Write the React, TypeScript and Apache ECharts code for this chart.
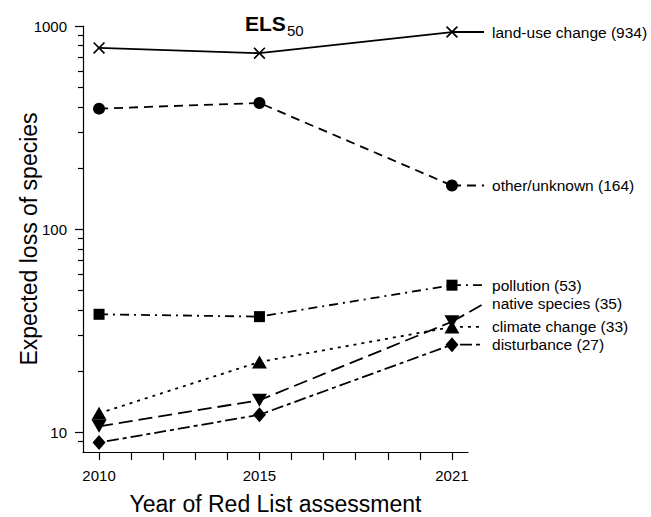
import React, { useEffect, useRef } from "react";
import * as echarts from "echarts";

// ---- data ----
const years = [2010, 2015, 2021];
const seriesNames = [
  "land-use change",
  "other/unknown",
  "pollution",
  "native species",
  "climate change",
  "disturbance",
];
const landUse = [780, 735, 934];
const otherUnknown = [392, 418, 164];
const pollution = [38.1, 37.1, 53];
const nativeSpecies = [10.7, 14.4, 35];
const climateChange = [12.4, 22.2, 33];
const disturbance = [8.9, 12.2, 27];
const seriesValues = [landUse, otherUnknown, pollution, nativeSpecies, climateChange, disturbance];
// value at which each right-hand label sits
const labelAnchors = [934, 164, 53, 43, 33, 27];
const labelYear = 2022;

const xTicks = [2010, 2011, 2012, 2013, 2014, 2015, 2016, 2017, 2018, 2019, 2020, 2021];
const xLabels = [2010, 2015, 2021];
const yMajorTicks = [10, 100, 1000];
const yMinorTicks = [9, 20, 30, 40, 50, 60, 70, 80, 90, 200, 300, 400, 500, 600, 700, 800, 900];

const FONT = "'Liberation Sans', Arial, Helvetica, sans-serif";
const BLACK = "#000000";

const crossPath =
  "path://M0,10 L10,0 L100,90 L90,100 Z M90,0 L100,10 L10,100 L0,90 Z";

const styles: any[] = [
  { dash: "solid", symbol: crossPath, size: 12, rotate: 0 },
  { dash: [9, 6], symbol: "circle", size: 12, rotate: 0 },
  { dash: [9, 5, 2, 5], symbol: "rect", size: 11, rotate: 0 },
  { dash: [14, 6], symbol: "triangle", size: [15, 13], rotate: 180 },
  { dash: [3, 5], symbol: "triangle", size: [15, 13], rotate: 0 },
  { dash: [4, 4, 12, 4], symbol: "diamond", size: [13, 15], rotate: 0 },
];

export default function App() {
  const ref = useRef<HTMLDivElement>(null);
  useEffect(() => {
    if (!ref.current) return;
    const chart = echarts.init(ref.current, undefined, { renderer: "svg" });

    const mainSeries = seriesNames.map((name, i) => ({
      type: "line",
      name,
      data: years.map((y, j) => [y, seriesValues[i][j]]),
      symbol: styles[i].symbol,
      symbolSize: styles[i].size,
      symbolRotate: styles[i].rotate,
      symbolKeepAspect: true,
      showSymbol: true,
      z: 3,
      lineStyle: { color: BLACK, width: 1.8, type: styles[i].dash, cap: "butt" },
      itemStyle: { color: BLACK, borderWidth: 0, opacity: 1 },
      emphasis: { disabled: true },
    }));

    const lastYear = years[years.length - 1];
    const connectorData = seriesNames.map((name, i) => {
      const last = seriesValues[i][seriesValues[i].length - 1];
      return [lastYear, last, labelYear, labelAnchors[i]];
    });

    const connectorSeries = {
      type: "custom",
      name: "labels",
      clip: false,
      z: 2,
      encode: { x: [0, 2], y: [1, 3] },
      data: connectorData,
      silent: true,
      renderItem: (params: any, api: any) => {
        const i = params.dataIndex;
        const p0 = api.coord([api.value(0), api.value(1)]);
        const p1 = api.coord([api.value(2), api.value(3)]);
        const dash = styles[i].dash;
        return {
          type: "group",
          children: [
            {
              type: "line",
              shape: { x1: p0[0], y1: p0[1], x2: p1[0], y2: p1[1] },
              style: {
                stroke: BLACK,
                lineWidth: 1.8,
                lineDash: Array.isArray(dash) ? dash : null,
                lineCap: "butt",
              },
            },
            {
              type: "text",
              x: p1[0] + 8,
              y: p1[1],
              style: {
                text: `${seriesNames[i]} (${api.value(1)})`,
                fill: BLACK,
                fontSize: 15.5,
                fontFamily: FONT,
                align: "left",
                verticalAlign: "middle",
              },
            },
          ],
        };
      },
    };

    chart.setOption({
      animation: false,
      backgroundColor: "#ffffff",
      textStyle: { fontFamily: FONT },
      grid: { left: 83, top: 26, right: 183, bottom: 65, containLabel: false, outerBoundsMode: "none" },
      graphic: [
        {
          type: "text",
          x: 245,
          y: 23,
          style: {
            text: "ELS",
            fontSize: 21,
            fontWeight: "bold",
            fontFamily: FONT,
            fill: BLACK,
            align: "left",
            verticalAlign: "middle",
          },
        },
        {
          type: "text",
          x: 287,
          y: 30,
          style: {
            text: "50",
            fontSize: 15,
            fontFamily: FONT,
            fill: BLACK,
            align: "left",
            verticalAlign: "middle",
          },
        },
      ],
      xAxis: {
        type: "value",
        min: 2009.5,
        max: 2021.5,
        name: "Year of Red List assessment",
        nameLocation: "middle",
        nameGap: 40,
        nameMoveOverlap: false,
        nameTextStyle: { fontSize: 23, color: BLACK, fontFamily: FONT },
        axisLine: { show: true, onZero: false, lineStyle: { color: BLACK, width: 1.2 } },
        axisTick: { show: true, length: 8, customValues: xTicks, lineStyle: { color: BLACK, width: 1.2 } },
        axisLabel: {
          show: true,
          customValues: xLabels,
          margin: 16,
          fontSize: 15,
          color: BLACK,
          fontFamily: FONT,
          formatter: (v: number) => String(v),
        },
        splitLine: { show: false },
      },
      yAxis: [
        {
          type: "log",
          logBase: 10,
          min: 8,
          max: 1000,
          position: "left",
          name: "Expected loss of species",
          nameLocation: "middle",
          nameGap: 43,
          nameMoveOverlap: false,
          nameTextStyle: { fontSize: 23, color: BLACK, fontFamily: FONT },
          axisLine: { show: true, lineStyle: { color: BLACK, width: 1.2 } },
          axisTick: { show: true, length: 8, customValues: yMajorTicks, lineStyle: { color: BLACK, width: 1.2 } },
          axisLabel: {
            show: true,
            customValues: yMajorTicks,
            margin: 16,
            fontSize: 15,
            color: BLACK,
            fontFamily: FONT,
            formatter: (v: number) => String(Math.round(v)),
          },
          splitLine: { show: false },
          minorTick: { show: false },
        },
        {
          type: "log",
          logBase: 10,
          min: 8,
          max: 1000,
          position: "left",
          offset: 0,
          axisLine: { show: false },
          axisTick: { show: true, length: 5, customValues: yMinorTicks, lineStyle: { color: BLACK, width: 1.2 } },
          axisLabel: { show: false },
          splitLine: { show: false },
        },
      ],
      series: [connectorSeries, ...mainSeries],
    });

    return () => chart.dispose();
  }, []);

  return (
    <div
      ref={ref}
      style={{ position: "absolute", left: 0, top: 0, width: 651, height: 517, background: "#fff" }}
    />
  );
}
